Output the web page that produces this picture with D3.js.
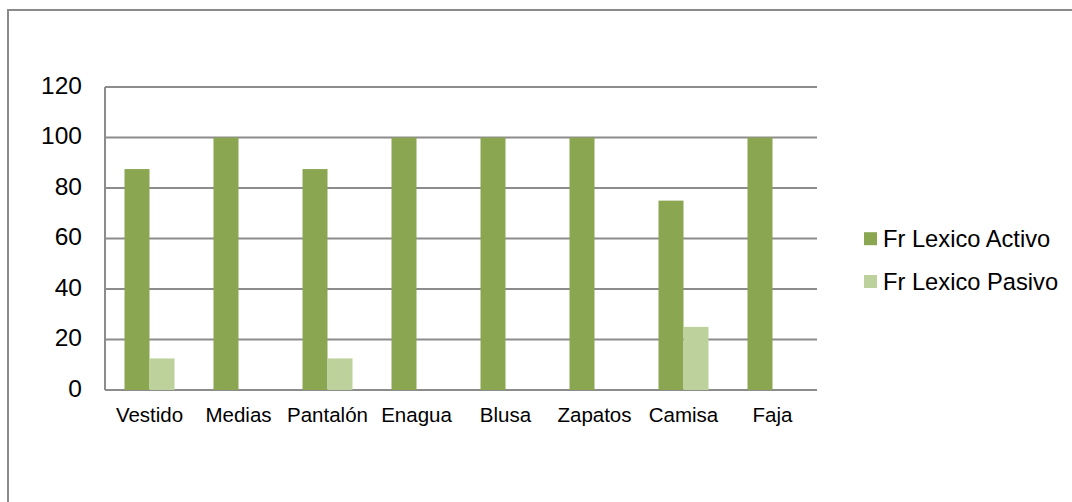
<!DOCTYPE html>
<html>
<head>
<meta charset="utf-8">
<script src="https://cdn.jsdelivr.net/npm/d3@7"></script>
<style>
    body { margin: 0; background: #fff; }
    svg { display: block; font-family: "Liberation Sans", Arial, sans-serif; }
</style>
</head>
<body>
<svg id="chart"></svg>
<script>
// data
const categories = ["Vestido", "Medias", "Pantalón", "Enagua", "Blusa", "Zapatos", "Camisa", "Faja"];
const seriesNames = ["Fr Lexico Activo", "Fr Lexico Pasivo"];
const activo = [87.5, 100, 87.5, 100, 100, 100, 75, 100];
const pasivo = [12.5, 0, 12.5, 0, 0, 0, 25, 0];
const yTicks = [0, 20, 40, 60, 80, 100, 120];
const colors = ["#8ba650", "#bcd19b"];

const width = 1072, height = 502;
const plot = { left: 105, right: 817, top: 87, bottom: 390 };

let svg = d3.select("#chart")
    .attr("width", width)
    .attr("height", height);

// outer chart border (runs off the right and bottom edge)
svg.append("rect")
    .attr("x", 8)
    .attr("y", 10)
    .attr("width", width + 20)
    .attr("height", height + 20)
    .attr("fill", "none")
    .attr("stroke", "#8a8a8a")
    .attr("stroke-width", 2);

let y = d3.scaleLinear()
    .domain([0, 120])
    .range([plot.bottom, plot.top]);

let x0 = d3.scaleBand()
    .domain(categories)
    .range([plot.left, plot.right])
    .padding(0);

let x1 = d3.scaleBand()
    .domain(seriesNames)
    .range([0, x0.bandwidth()])
    .paddingInner(0)
    .paddingOuter(0.78);

// gridlines
svg.append("g")
    .selectAll("line")
    .data(yTicks)
    .join("line")
    .attr("x1", plot.left)
    .attr("x2", plot.right)
    .attr("y1", d => y(d))
    .attr("y2", d => y(d))
    .attr("stroke", "#8c8c8c")
    .attr("stroke-width", 2);

// left axis line
svg.append("line")
    .attr("x1", plot.left)
    .attr("x2", plot.left)
    .attr("y1", y(120))
    .attr("y2", y(0))
    .attr("stroke", "#8c8c8c")
    .attr("stroke-width", 2);

// y tick labels
svg.append("g")
    .selectAll("text")
    .data(yTicks)
    .join("text")
    .attr("x", 82)
    .attr("y", d => y(d))
    .attr("dy", "0.27em")
    .attr("text-anchor", "end")
    .style("font-size", "24.5px")
    .attr("fill", "#000")
    .text(d => d);

// bars
let rows = categories.map((c, i) => ({ cat: c, values: [activo[i], pasivo[i]] }));

let groups = svg.append("g")
    .selectAll("g")
    .data(rows)
    .join("g")
    .attr("transform", d => `translate(${x0(d.cat)},0)`);

groups.selectAll("rect")
    .data(d => d.values.map((v, j) => ({ name: seriesNames[j], value: v, j: j })))
    .join("rect")
    .attr("x", d => x1(d.name))
    .attr("width", x1.bandwidth())
    .attr("y", d => y(d.value))
    .attr("height", d => y(0) - y(d.value))
    .attr("fill", d => colors[d.j]);

// category labels
svg.append("g")
    .selectAll("text")
    .data(categories)
    .join("text")
    .attr("x", d => x0(d) + x0.bandwidth() / 2)
    .attr("y", 421.5)
    .attr("text-anchor", "middle")
    .style("font-size", "20.5px")
    .attr("fill", "#000")
    .text(d => d);

// legend
let legend = svg.append("g")
    .selectAll("g")
    .data(seriesNames)
    .join("g")
    .attr("transform", (d, i) => `translate(864, ${238.7 + i * 42.8})`);

legend.append("rect")
    .attr("x", 0)
    .attr("y", -6.5)
    .attr("width", 13)
    .attr("height", 13)
    .attr("fill", (d, i) => colors[i]);

legend.append("text")
    .attr("x", 19)
    .attr("y", 8.3)
    .style("font-size", "23.7px")
    .attr("fill", "#000")
    .text(d => d);
</script>
</body>
</html>
